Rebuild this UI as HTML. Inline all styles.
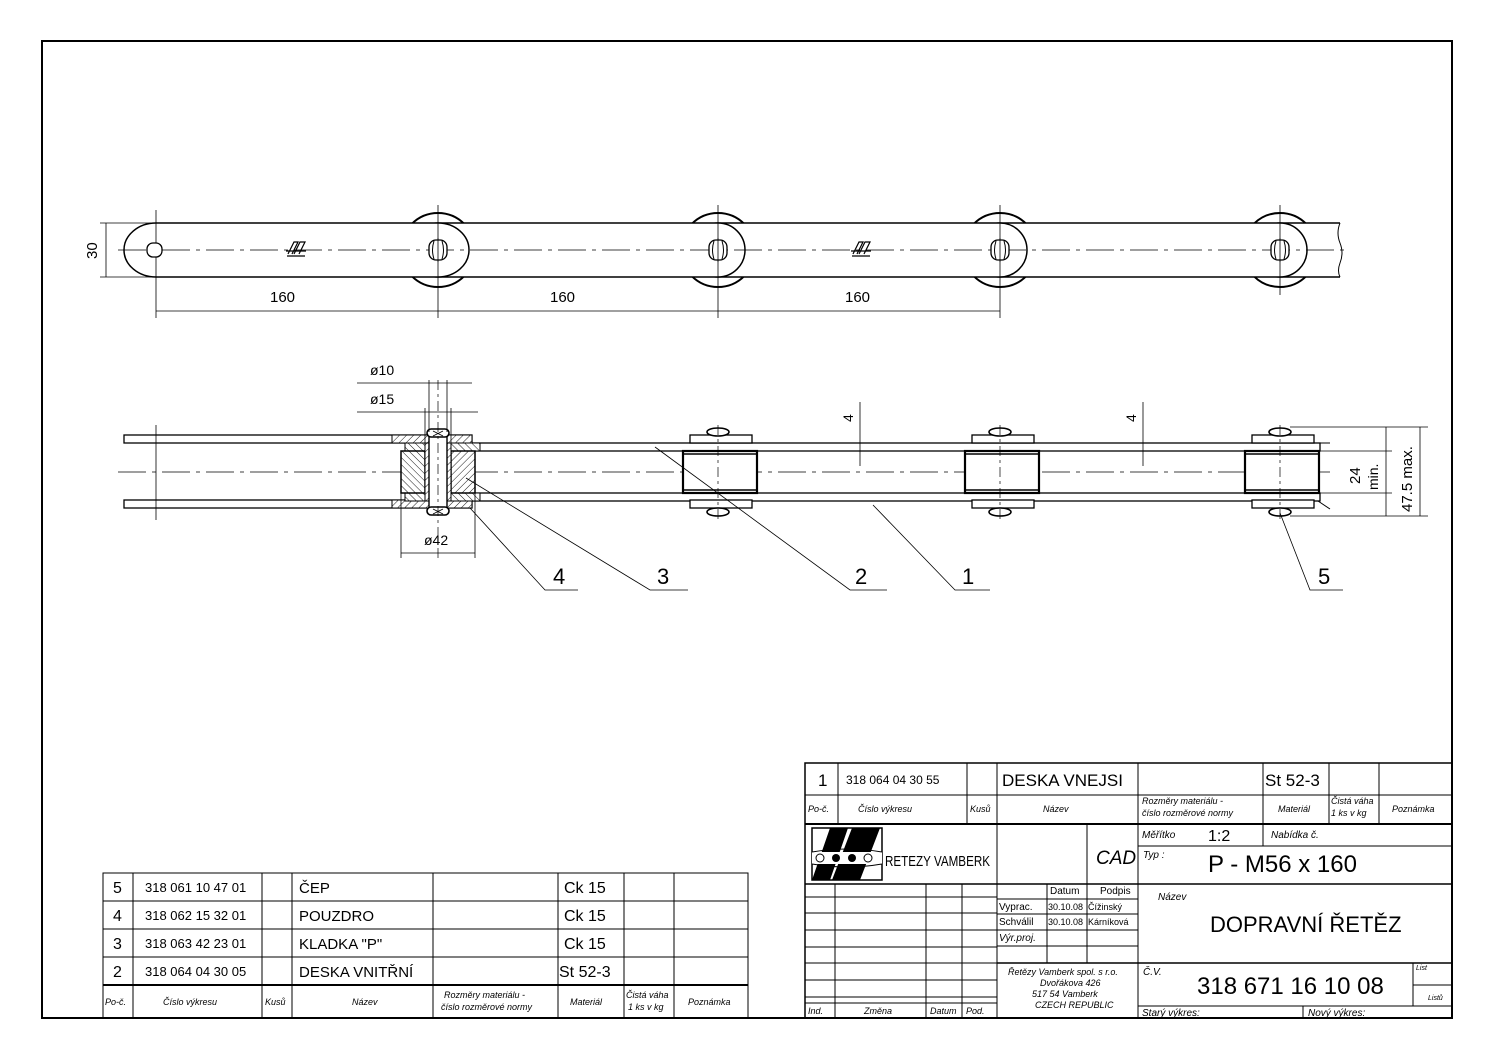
<!DOCTYPE html>
<html><head><meta charset="utf-8"><style>
html,body{margin:0;padding:0;background:#fff;}
svg{display:block;font-family:"Liberation Sans",sans-serif;}
text{fill:#000;}
</style></head><body>
<svg width="1495" height="1058" viewBox="0 0 1495 1058" xmlns="http://www.w3.org/2000/svg">
<defs>
<pattern id="h" width="5" height="5" patternUnits="userSpaceOnUse" patternTransform="rotate(45)">
<rect width="5" height="5" fill="#fff"/><line x1="0" y1="0" x2="0" y2="5" stroke="#000" stroke-width="0.9"/>
</pattern>
<pattern id="h2" width="5" height="5" patternUnits="userSpaceOnUse" patternTransform="rotate(-45)">
<rect width="5" height="5" fill="#fff"/><line x1="0" y1="0" x2="0" y2="5" stroke="#000" stroke-width="0.9"/>
</pattern>
<g id="hole">
<rect x="-9" y="-10" width="18" height="20" rx="7" fill="#fff" stroke="#000" stroke-width="1.3"/>
<path d="M-4 -9 q-3 9 0 18 M4 -9 q3 9 0 18" fill="none" stroke="#000" stroke-width="1"/>
</g>
</defs>
<rect x="0" y="0" width="1495" height="1058" fill="#fff"/>
<rect x="42" y="41" width="1410" height="977" fill="none" stroke="#000" stroke-width="2"/>

<!-- ===== TOP VIEW ===== -->
<g stroke="#000" fill="#fff">
<circle cx="438" cy="250" r="37" stroke-width="2"/>
<circle cx="718" cy="250" r="37" stroke-width="2"/>
<circle cx="1000" cy="250" r="37" stroke-width="2"/>
<circle cx="1280" cy="250" r="37" stroke-width="2"/>
<path d="M1340 223 L1280 223 A27 27 0 0 0 1280 277 L1340 277" stroke-width="1.5"/>
<path d="M1340 223 q-4 10 0 20 q4 10 0 20 q-3 8 0 14" fill="none" stroke-width="1"/>
<path d="M1000 223 H1280 A27 27 0 0 1 1280 277 H1000 A27 27 0 0 1 1000 223 Z" stroke-width="1.5"/>
<path d="M718 223 H1000 A27 27 0 0 1 1000 277 H718 A27 27 0 0 1 718 223 Z" stroke-width="1.5"/>
<path d="M438 223 H718 A27 27 0 0 1 718 277 H438 A27 27 0 0 1 438 223 Z" stroke-width="1.5"/>
<path d="M156 223 H438 A31 27 0 0 1 438 277 H156 A32 27 0 0 1 156 223 Z" stroke-width="1.5"/>
</g>
<line x1="118" y1="250" x2="1345" y2="250" stroke="#000" stroke-width="0.8" stroke-dasharray="28 6 4 6"/>
<g stroke="#000" stroke-width="0.8">
<line x1="156" y1="210" x2="156" y2="318"/>
<line x1="438" y1="205" x2="438" y2="318"/>
<line x1="718" y1="205" x2="718" y2="318"/>
<line x1="1000" y1="205" x2="1000" y2="318"/>
<line x1="1280" y1="205" x2="1280" y2="295"/>
<line x1="156" y1="311" x2="1000" y2="311"/>
<line x1="100" y1="223" x2="156" y2="223"/>
<line x1="100" y1="277" x2="156" y2="277"/>
<line x1="106" y1="223" x2="106" y2="277"/>
</g>
<rect x="147" y="243" width="15" height="14" rx="6" fill="#fff" stroke="#000" stroke-width="1.3"/>
<use href="#hole" x="438" y="250"/>
<use href="#hole" x="718" y="250"/>
<use href="#hole" x="1000" y="250"/>
<use href="#hole" x="1280" y="250"/>
<g stroke="#000" stroke-width="0.8">
<line x1="438" y1="238" x2="438" y2="262"/><line x1="718" y1="238" x2="718" y2="262"/>
<line x1="1000" y1="238" x2="1000" y2="262"/><line x1="1280" y1="238" x2="1280" y2="262"/>
</g>
<g stroke="#000" stroke-width="1.2" fill="none">
<path d="M288 254 l6 -12 h4 l-6 12 M294 254 l6 -12 h5 l-6 12 M286 251 h20 M287 256 h18"/>
<path d="M853 254 l6 -12 h4 l-6 12 M859 254 l6 -12 h5 l-6 12 M851 251 h20 M852 256 h18"/>
</g>
<g font-size="15">
<text x="270" y="302">160</text>
<text x="550" y="302">160</text>
<text x="845" y="302">160</text>
<text transform="translate(97,259) rotate(-90)">30</text>
</g>

<!-- ===== SECTION VIEW ===== -->
<g stroke="#000" stroke-width="1.3" fill="#fff">
<rect x="124" y="435" width="348" height="8"/>
<rect x="124" y="500" width="348" height="8"/>
<rect x="472" y="443" width="848" height="8"/>
<rect x="472" y="493" width="848" height="8"/>
</g>
<line x1="118" y1="472" x2="1330" y2="472" stroke="#000" stroke-width="0.8" stroke-dasharray="28 6 4 6"/>
<line x1="156" y1="425" x2="156" y2="520" stroke="#000" stroke-width="0.8"/>
<g stroke="#000" stroke-width="1">
<rect x="392" y="435" width="80" height="8" fill="url(#h)"/>
<rect x="392" y="500" width="80" height="8" fill="url(#h)"/>
<rect x="405" y="443" width="75" height="8" fill="url(#h2)"/>
<rect x="405" y="493" width="75" height="8" fill="url(#h2)"/>
<rect x="401" y="451" width="24" height="42" fill="url(#h2)" stroke-width="1.5"/>
<rect x="451" y="451" width="24" height="42" fill="url(#h)" stroke-width="1.5"/>
<rect x="425" y="443" width="4" height="58" fill="url(#h)"/>
<rect x="447" y="443" width="4" height="58" fill="url(#h)"/>
<rect x="429" y="432" width="18" height="80" fill="#fff" stroke-width="1.4"/>
<rect x="427" y="429" width="22" height="8" rx="4" fill="#fff" stroke-width="1.6"/>
<rect x="427" y="507" width="22" height="8" rx="4" fill="#fff" stroke-width="1.6"/>
<path d="M433 431 l10 5 M443 431 l-10 5 M433 509 l10 5 M443 509 l-10 5" stroke-width="0.8"/>
</g>
<line x1="438" y1="380" x2="438" y2="560" stroke="#000" stroke-width="0.7" stroke-dasharray="10 4 3 4"/>
<g stroke="#000" fill="#fff">
<g id="j">
<rect x="690" y="435" width="62" height="8" stroke-width="1.3"/>
<rect x="690" y="500" width="62" height="8" stroke-width="1.3"/>
<rect x="683" y="451" width="74" height="42" stroke-width="2.2"/>
<line x1="683" y1="454" x2="757" y2="454" stroke-width="1.6"/>
<line x1="683" y1="490" x2="757" y2="490" stroke-width="1.6"/>
<ellipse cx="718" cy="432" rx="11" ry="4" stroke-width="1.6"/>
<ellipse cx="718" cy="512" rx="11" ry="4" stroke-width="1.6"/>
<line x1="718" y1="425" x2="718" y2="520" stroke-width="0.7" stroke-dasharray="10 4 3 4"/>
</g>
<use href="#j" x="282"/>
<use href="#j" x="562"/>
</g>
<path d="M1318 443 l12 0 M1318 501 l12 8" stroke="#000" stroke-width="1"/>
<g stroke="#000" stroke-width="0.8" fill="none">
<line x1="357" y1="383" x2="472" y2="383"/>
<line x1="357" y1="412" x2="478" y2="412"/>
<line x1="429" y1="380" x2="429" y2="432"/>
<line x1="447" y1="380" x2="447" y2="432"/>
<line x1="425" y1="408" x2="425" y2="443"/>
<line x1="451" y1="408" x2="451" y2="443"/>
<line x1="401" y1="493" x2="401" y2="558"/>
<line x1="475" y1="493" x2="475" y2="558"/>
<line x1="401" y1="553" x2="475" y2="553"/>
<line x1="860" y1="402" x2="860" y2="466"/>
<line x1="1143" y1="402" x2="1143" y2="466"/>
<line x1="1290" y1="427" x2="1428" y2="427"/>
<line x1="1290" y1="516" x2="1428" y2="516"/>
<line x1="1320" y1="451" x2="1392" y2="451"/>
<line x1="1320" y1="493" x2="1392" y2="493"/>
<line x1="1386" y1="427" x2="1386" y2="516"/>
<line x1="1420" y1="427" x2="1420" y2="516"/>
<polyline points="470,508 545,590 578,590"/>
<polyline points="466,478 650,590 688,590"/>
<polyline points="655,447 850,590 887,590"/>
<polyline points="873,505 955,590 990,590"/>
<polyline points="1280,513 1310,590 1343,590"/>
</g>
<g font-size="14">
<text x="370" y="375">ø10</text>
<text x="370" y="404">ø15</text>
<text x="424" y="545">ø42</text>
<text transform="translate(853,422) rotate(-90)">4</text>
<text transform="translate(1136,422) rotate(-90)">4</text>
<text transform="translate(1360,484) rotate(-90)" font-size="15">24</text>
<text transform="translate(1378,490) rotate(-90)">min.</text>
<text transform="translate(1412,512) rotate(-90)" font-size="15">47.5 max.</text>
</g>
<g font-size="22">
<text x="553" y="584">4</text>
<text x="657" y="584">3</text>
<text x="855" y="584">2</text>
<text x="962" y="584">1</text>
<text x="1318" y="584">5</text>
</g>

<!-- ===== PARTS LIST ===== -->
<g stroke="#000" stroke-width="1" fill="none">
<rect x="103" y="873" width="645" height="145"/>
<line x1="103" y1="901" x2="748" y2="901"/>
<line x1="103" y1="929" x2="748" y2="929"/>
<line x1="103" y1="957" x2="748" y2="957"/>
<line x1="103" y1="985" x2="748" y2="985" stroke-width="2"/>
<line x1="133" y1="873" x2="133" y2="1018"/>
<line x1="262" y1="873" x2="262" y2="1018"/>
<line x1="292" y1="873" x2="292" y2="1018"/>
<line x1="433" y1="873" x2="433" y2="1018"/>
<line x1="558" y1="873" x2="558" y2="1018"/>
<line x1="624" y1="873" x2="624" y2="1018"/>
<line x1="674" y1="873" x2="674" y2="1018"/>
</g>
<g font-size="13">
<text x="113" y="893" font-size="16">5</text><text x="145" y="892">318 061 10 47 01</text><text x="299" y="893" font-size="15">ČEP</text><text x="564" y="893" font-size="16">Ck 15</text>
<text x="113" y="921" font-size="16">4</text><text x="145" y="920">318 062 15 32 01</text><text x="299" y="921" font-size="15">POUZDRO</text><text x="564" y="921" font-size="16">Ck 15</text>
<text x="113" y="949" font-size="16">3</text><text x="145" y="948">318 063 42 23 01</text><text x="299" y="949" font-size="15">KLADKA "P"</text><text x="564" y="949" font-size="16">Ck 15</text>
<text x="113" y="977" font-size="16">2</text><text x="145" y="976">318 064 04 30 05</text><text x="299" y="977" font-size="15">DESKA VNITŘNÍ</text><text x="559" y="977" font-size="16">St 52-3</text>
</g>
<g font-size="9" font-style="italic">
<text x="105" y="1005">Po-č.</text><text x="163" y="1005">Číslo výkresu</text><text x="265" y="1005">Kusů</text><text x="352" y="1005">Název</text>
<text x="444" y="998">Rozměry materiálu -</text><text x="441" y="1010">číslo rozměrové normy</text>
<text x="570" y="1005">Materiál</text><text x="626" y="998">Čistá váha</text><text x="628" y="1010">1 ks v kg</text><text x="688" y="1005">Poznámka</text>
</g>

<!-- ===== TITLE BLOCK ===== -->
<g stroke="#000" stroke-width="1" fill="none">
<rect x="805" y="763" width="647" height="255" stroke-width="1.5"/>
<line x1="805" y1="795" x2="1452" y2="795"/>
<line x1="805" y1="824" x2="1452" y2="824" stroke-width="2"/>
<line x1="838" y1="763" x2="838" y2="824"/>
<line x1="967" y1="763" x2="967" y2="824"/>
<line x1="997" y1="763" x2="997" y2="1018"/>
<line x1="1138" y1="763" x2="1138" y2="1018"/>
<line x1="1263" y1="763" x2="1263" y2="846"/>
<line x1="1329" y1="763" x2="1329" y2="824"/>
<line x1="1379" y1="763" x2="1379" y2="824"/>
<line x1="805" y1="884" x2="1452" y2="884" stroke-width="1.5"/>
<line x1="1138" y1="846" x2="1452" y2="846"/>
<line x1="1087" y1="824" x2="1087" y2="963"/>
<line x1="1047" y1="884" x2="1047" y2="963"/>
<line x1="997" y1="899" x2="1138" y2="899"/>
<line x1="997" y1="914" x2="1138" y2="914"/>
<line x1="997" y1="930" x2="1138" y2="930"/>
<line x1="997" y1="946" x2="1138" y2="946"/>
<line x1="997" y1="963" x2="1452" y2="963" stroke-width="1.5"/>
<line x1="805" y1="963" x2="997" y2="963"/>
<line x1="805" y1="897" x2="997" y2="897"/>
<line x1="805" y1="913" x2="997" y2="913"/>
<line x1="805" y1="930" x2="997" y2="930"/>
<line x1="805" y1="947" x2="997" y2="947"/>
<line x1="805" y1="980" x2="997" y2="980"/>
<line x1="805" y1="997" x2="997" y2="997"/>
<line x1="805" y1="1003" x2="997" y2="1003"/>
<line x1="835" y1="884" x2="835" y2="1018"/>
<line x1="926" y1="884" x2="926" y2="1018"/>
<line x1="962" y1="884" x2="962" y2="1018"/>
<line x1="1138" y1="1006" x2="1452" y2="1006"/>
<line x1="1303" y1="1006" x2="1303" y2="1018"/>
<line x1="1413" y1="963" x2="1413" y2="1006"/>
<line x1="1413" y1="985" x2="1452" y2="985"/>
</g>
<g>
<rect x="812" y="828" width="70" height="52" fill="none" stroke="#000" stroke-width="1.5"/>
<path d="M830 828 h18 l-18 52 h-18z M852 828 h28 l-20 52 h-28z" fill="#000"/>
<rect x="812" y="852" width="70" height="12" fill="#fff"/>
<path d="M812 852 q35 -6 70 0 M812 864 q35 6 70 0" stroke="#000" fill="none"/>
<circle cx="820" cy="858" r="4" fill="#fff" stroke="#000"/>
<circle cx="836" cy="858" r="4" fill="#000"/>
<circle cx="852" cy="858" r="4" fill="#000"/>
<circle cx="868" cy="858" r="4" fill="#fff" stroke="#000"/>
</g>
<g font-size="15">
<text x="818" y="786" font-size="17">1</text><text x="846" y="784" font-size="12">318 064 04 30 55</text>
<text x="1002" y="786" font-size="17">DESKA VNEJSI</text><text x="1265" y="786" font-size="17">St 52-3</text>
<text x="885" y="866" font-size="15" textLength="105" lengthAdjust="spacingAndGlyphs">RETEZY VAMBERK</text>
<text x="1096" y="864" font-size="19" font-style="italic">CAD</text>
<text x="1208" y="841" font-size="16">1:2</text>
<text x="1208" y="872" font-size="24">P - M56 x 160</text>
<text x="1210" y="932" font-size="22">DOPRAVNÍ ŘETĚZ</text>
<text x="1197" y="994" font-size="24">318 671 16 10 08</text>
<text x="1050" y="894" font-size="10">Datum</text><text x="1100" y="894" font-size="10">Podpis</text>
<text x="999" y="910" font-size="10">Vyprac.</text><text x="1048" y="910" font-size="9">30.10.08</text><text x="1088" y="910" font-size="9">Čížinský</text>
<text x="999" y="925" font-size="10">Schválil</text><text x="1048" y="925" font-size="9">30.10.08</text><text x="1088" y="925" font-size="9">Kárníková</text>
<text x="999" y="941" font-size="10" font-style="italic">Výr.proj.</text>
</g>
<g font-size="9" font-style="italic">
<text x="808" y="812">Po-č.</text><text x="858" y="812">Číslo výkresu</text><text x="970" y="812">Kusů</text><text x="1043" y="812">Název</text>
<text x="1142" y="804">Rozměry materiálu -</text><text x="1142" y="816">číslo rozměrové normy</text>
<text x="1278" y="812">Materiál</text><text x="1331" y="804">Čistá váha</text><text x="1331" y="816">1 ks v kg</text><text x="1392" y="812">Poznámka</text>
<text x="1142" y="838" font-size="10">Měřítko</text><text x="1271" y="838" font-size="10">Nabídka č.</text>
<text x="1143" y="858" font-size="10">Typ :</text>
<text x="1158" y="900" font-size="10">Název</text>
<text x="1143" y="975" font-size="10">Č.V.</text>
<text x="1416" y="970" font-size="7">List</text><text x="1428" y="1000" font-size="7">Listů</text>
<text x="1142" y="1016" font-size="10">Starý výkres:</text><text x="1308" y="1016" font-size="10">Nový výkres:</text>
<text x="808" y="1014">Ind.</text><text x="864" y="1014">Změna</text><text x="930" y="1014">Datum</text><text x="966" y="1014">Pod.</text>
<text x="1008" y="975" font-size="9">Řetězy Vamberk spol. s r.o.</text>
<text x="1040" y="986" font-size="9">Dvořákova 426</text>
<text x="1032" y="997" font-size="9">517 54  Vamberk</text>
<text x="1035" y="1008" font-size="9">CZECH REPUBLIC</text>
</g>
</svg>
</body></html>
